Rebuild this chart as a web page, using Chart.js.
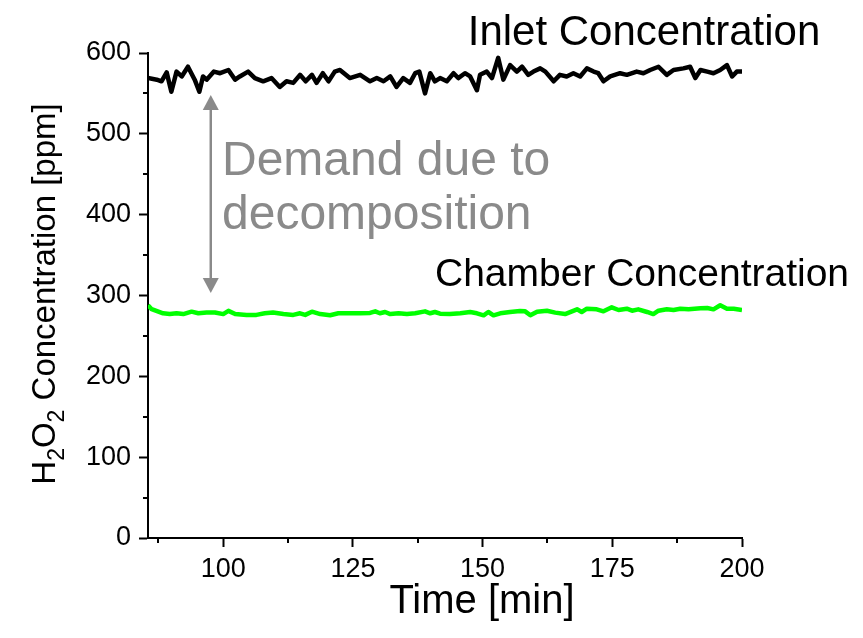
<!DOCTYPE html>
<html>
<head>
<meta charset="utf-8">
<script src="https://cdn.jsdelivr.net/npm/chart.js@4.4.1/dist/chart.umd.min.js"></script>
<style>
  html, body { margin: 0; padding: 0; background: #fff; }
  canvas { display: block; }
</style>
</head>
<body>
<canvas id="chart" width="863" height="638"></canvas>
<script>
// time [min] and concentration [ppm]
const inletTime = [85.5, 87.2, 88.1, 89.1, 90.0, 91.0, 92.0, 93.2, 94.5, 95.4,
    96.1, 96.8, 98.2, 99.4, 101.0, 102.3, 103.2, 104.8, 106.1, 107.7,
    109.3, 110.9, 112.2, 113.5, 114.8, 115.9, 117.1, 118.0, 119.2, 120.3,
    121.5, 122.5, 124.4, 126.4, 128.3, 129.6, 130.9, 132.2, 133.4, 134.7,
    136.0, 137.0, 137.8, 138.9, 139.9, 140.8, 141.8, 143.1, 144.4, 145.3,
    146.6, 147.6, 148.9, 149.5, 150.8, 151.8, 153.0, 154.0, 155.3, 156.6,
    157.6, 158.8, 159.8, 161.1, 162.1, 163.7, 164.9, 166.2, 167.5, 168.8,
    170.1, 171.4, 172.3, 173.3, 174.6, 176.5, 177.8, 179.7, 181.0, 182.3,
    183.9, 185.5, 186.8, 188.7, 190.0, 191.0, 192.0, 193.3, 194.5, 195.8,
    197.1, 198.1, 199.0, 200];
const inletConc = [569, 567, 565, 576, 552, 577, 571, 583, 567, 552,
    571, 567, 577, 575, 579, 567, 571, 577, 569, 565,
    569, 558, 565, 563, 573, 565, 573, 563, 575, 565,
    577, 579, 569, 573, 565, 569, 565, 571, 558, 569,
    563, 575, 577, 550, 575, 565, 569, 565, 575, 569,
    575, 571, 554, 573, 577, 569, 594, 567, 585, 577,
    583, 573, 577, 581, 577, 565, 573, 571, 575, 571,
    581, 577, 575, 565, 571, 575, 573, 577, 575, 579,
    583, 573, 579, 581, 583, 569, 579, 577, 575, 579,
    585, 571, 577, 577];

const chamberTime = [85.5, 86.2, 87.5, 88.4, 89.7, 91.0, 92.3, 93.9, 95.2, 96.8,
    98.4, 100.0, 101.0, 102.3, 104.5, 106.4, 108.0, 109.6, 111.6, 113.5,
    114.8, 115.8, 117.1, 118.7, 120.6, 122.2, 124.1, 126.4, 128.3, 129.3,
    130.2, 131.2, 132.2, 133.8, 135.4, 137.0, 138.9, 139.9, 140.8, 141.8,
    143.7, 145.7, 147.6, 148.9, 150.2, 151.1, 152.1, 153.4, 155.3, 157.2,
    158.2, 159.2, 160.5, 162.4, 164.0, 165.9, 168.2, 169.1, 170.1, 172.0,
    173.3, 174.9, 176.2, 177.8, 178.8, 180.0, 181.7, 182.9, 183.9, 185.5,
    186.8, 188.1, 189.7, 192.0, 193.3, 194.5, 195.8, 197.1, 198.4, 200];
const chamberConc = [288, 283, 280, 278, 277, 278, 277, 280, 278, 279,
    279, 277, 281, 277, 276, 276, 278, 279, 277, 276,
    278, 276, 280, 277, 275.5, 278, 278, 278, 278.4, 280.4,
    278, 279.6, 277, 278, 277, 278, 280.4, 278, 279.6, 277.5,
    277, 278, 279.6, 278, 275.5, 279.6, 275.5, 278, 279.6, 280.8,
    280.4, 275.5, 280, 281.2, 278.8, 277, 282.9, 279.6, 283.7, 282.9,
    280.4, 285.4, 282.1, 283.7, 281.2, 282.9, 279.6, 277, 281.2, 282.9,
    282.1, 283.7, 282.9, 284.1, 284.6, 282.9, 287.9, 283.7, 283.7, 282.1];

const xMajor = [100, 125, 150, 175, 200];
const xMinor = [87.5, 112.5, 137.5, 162.5, 187.5];
const yMajor = [0, 100, 200, 300, 400, 500, 600];
const yMinor = [50, 150, 250, 350, 450, 550];

// "demand" arrow between the two levels
const arrowTime = 97.6;
const arrowTop = 548;
const arrowBottom = 303;

const FONT = '"Liberation Sans", Arial, sans-serif';
const GREY = '#8a8a8a';

const extras = {
    id: 'extras',
    afterDraw(chart) {
        const ctx = chart.ctx;
        const x = chart.scales.x, y = chart.scales.y;
        const area = chart.chartArea;
        ctx.save();

        // minor ticks
        ctx.strokeStyle = '#000';
        ctx.lineWidth = 2;
        ctx.beginPath();
        xMinor.forEach(v => {
            const px = Math.round(x.getPixelForValue(v));
            ctx.moveTo(px, area.bottom);
            ctx.lineTo(px, area.bottom + 5);
        });
        yMinor.forEach(v => {
            const py = Math.round(y.getPixelForValue(v));
            ctx.moveTo(area.left - 5, py);
            ctx.lineTo(area.left, py);
        });
        ctx.stroke();

        // double-headed arrow
        const ax = x.getPixelForValue(arrowTime);
        const ay1 = y.getPixelForValue(arrowTop);
        const ay2 = y.getPixelForValue(arrowBottom);
        const hw = 8, hl = 15;
        ctx.strokeStyle = GREY;
        ctx.fillStyle = GREY;
        ctx.lineWidth = 2.5;
        ctx.beginPath();
        ctx.moveTo(ax, ay1 + hl - 2);
        ctx.lineTo(ax, ay2 - hl + 2);
        ctx.stroke();
        ctx.beginPath();
        ctx.moveTo(ax, ay1);
        ctx.lineTo(ax - hw, ay1 + hl);
        ctx.lineTo(ax + hw, ay1 + hl);
        ctx.closePath();
        ctx.fill();
        ctx.beginPath();
        ctx.moveTo(ax, ay2);
        ctx.lineTo(ax - hw, ay2 - hl);
        ctx.lineTo(ax + hw, ay2 - hl);
        ctx.closePath();
        ctx.fill();

        // annotations
        ctx.textBaseline = 'alphabetic';
        ctx.textAlign = 'center';
        ctx.fillStyle = '#000';
        ctx.font = '42px ' + FONT;
        ctx.fillText('Inlet Concentration', 644, 45);
        ctx.font = '39px ' + FONT;
        ctx.fillText('Chamber Concentration', 642, 286);
        ctx.textAlign = 'left';
        ctx.fillStyle = GREY;
        ctx.font = '48px ' + FONT;
        ctx.fillText('Demand due to', 222, 175);
        ctx.fillText('decomposition', 222, 229);

        // axis titles
        ctx.fillStyle = '#000';
        ctx.font = '40px ' + FONT;
        ctx.textAlign = 'center';
        ctx.fillText('Time [min]', 482, 613);

        const parts = [
            ['H', false], ['2', true], ['O', false], ['2', true],
            [' Concentration [ppm]', false]
        ];
        const big = '33px ' + FONT, small = '23px ' + FONT;
        let total = 0;
        parts.forEach(p => {
            ctx.font = p[1] ? small : big;
            total += ctx.measureText(p[0]).width;
        });
        ctx.translate(55, 294);
        ctx.rotate(-Math.PI / 2);
        ctx.textAlign = 'left';
        let cx = -total / 2;
        parts.forEach(p => {
            ctx.font = p[1] ? small : big;
            ctx.fillText(p[0], cx, p[1] ? 9 : 0);
            cx += ctx.measureText(p[0]).width;
        });
        ctx.restore();
    }
};

new Chart(document.getElementById('chart'), {
    type: 'line',
    data: {
        datasets: [{
            label: 'Inlet Concentration',
            data: inletTime.map((t, i) => ({ x: t, y: inletConc[i] })),
            borderColor: '#000000',
            borderWidth: 4.5,
            pointRadius: 0,
            tension: 0,
            borderJoinStyle: 'round'
        }, {
            label: 'Chamber Concentration',
            data: chamberTime.map((t, i) => ({ x: t, y: chamberConc[i] })),
            borderColor: '#00ff00',
            borderWidth: 4.5,
            pointRadius: 0,
            tension: 0,
            borderJoinStyle: 'round'
        }]
    },
    options: {
        responsive: false,
        animation: false,
        layout: { padding: { left: 0, right: 121, top: 53, bottom: 0 } },
        plugins: {
            legend: { display: false },
            tooltip: { enabled: false }
        },
        scales: {
            x: {
                type: 'linear',
                min: 85.5,
                max: 200,
                afterBuildTicks: s => { s.ticks = xMajor.map(v => ({ value: v })); },
                afterFit: s => { s.height = 100; },
                grid: { drawOnChartArea: false, tickLength: 9, tickWidth: 2, tickColor: '#000' },
                border: { color: '#000', width: 2 },
                ticks: { color: '#000', font: { family: FONT, size: 27 }, padding: 6, maxRotation: 0 }
            },
            y: {
                min: 0,
                max: 600,
                afterBuildTicks: s => { s.ticks = yMajor.map(v => ({ value: v })); },
                afterFit: s => { s.width = 148; },
                grid: { drawOnChartArea: false, tickLength: 9, tickWidth: 2, tickColor: '#000' },
                border: { color: '#000', width: 2 },
                ticks: { color: '#000', font: { family: FONT, size: 27 }, padding: 8 }
            }
        }
    },
    plugins: [extras]
});
</script>
</body>
</html>
